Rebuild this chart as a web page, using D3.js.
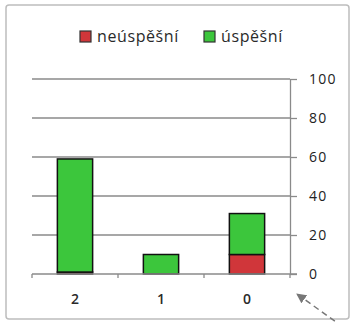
<!DOCTYPE html>
<html>
<head>
<meta charset="utf-8">
<script src="https://cdn.jsdelivr.net/npm/d3@7"></script>
<style>
  html, body { margin: 0; padding: 0; background: #fff; }
  svg { display: block; }
  text { font-family: "Open Sans", "Liberation Sans", sans-serif; }
</style>
</head>
<body>
<svg id="chart" width="354" height="322"></svg>
<script>
// Categories on the horizontal axis
const categories = ["2", "1", "0"];
// Stacked series values (bottom: neúspěšní, top: úspěšní)
const neuspesni = [1, 0, 10];
const uspesni = [58, 10, 21];
// Right-hand axis ticks
const yTicks = [0, 20, 40, 60, 80, 100];
const seriesNames = ["neúspěšní", "úspěšní"];
const seriesColors = ["#d0363a", "#3cc63c"];

const svg = d3.select("#chart");

// Outer chart frame
svg.append("rect")
  .attr("x", 6).attr("y", 5)
  .attr("width", 343).attr("height", 314)
  .attr("rx", 3)
  .attr("fill", "#fff")
  .attr("stroke", "#bdbdbd")
  .attr("stroke-width", 1.5);

const x = d3.scaleBand()
  .domain(categories)
  .range([32, 290])
  .paddingInner(0.59)
  .paddingOuter(0.295);

const y = d3.scaleLinear().domain([0, 100]).range([274, 79]);

// Horizontal gridlines
svg.append("g")
  .selectAll("line")
  .data(yTicks.filter(t => t !== 0))
  .join("line")
  .attr("x1", x.range()[0]).attr("x2", x.range()[1])
  .attr("y1", d => y(d)).attr("y2", d => y(d))
  .attr("stroke", "#8a8a8a")
  .attr("stroke-width", 1.3);

// Stack the two series
const rows = categories.map((c, i) => ({ cat: c, neuspesni: neuspesni[i], uspesni: uspesni[i] }));
const stacked = d3.stack().keys(["neuspesni", "uspesni"])(rows);

svg.append("g")
  .selectAll("g")
  .data(stacked)
  .join("g")
  .attr("fill", (d, i) => seriesColors[i])
  .selectAll("rect")
  .data(d => d.filter(p => p[1] - p[0] > 0))
  .join("rect")
  .attr("x", d => x(d.data.cat))
  .attr("width", x.bandwidth())
  .attr("y", d => y(d[1]))
  .attr("height", d => y(d[0]) - y(d[1]))
  .attr("stroke", "#111")
  .attr("stroke-width", 1.5);

// Bottom category axis: baseline with ticks at band boundaries
const xAxis = svg.append("g");
xAxis.append("line")
  .attr("x1", x.range()[0]).attr("x2", x.range()[1] + 7)
  .attr("y1", y(0)).attr("y2", y(0))
  .attr("stroke", "#8a8a8a").attr("stroke-width", 1.3);
xAxis.selectAll("line.tick")
  .data(d3.range(categories.length + 1))
  .join("line")
  .attr("class", "tick")
  .attr("x1", i => x.range()[0] + i * x.step())
  .attr("x2", i => x.range()[0] + i * x.step())
  .attr("y1", y(0)).attr("y2", y(0) + 4)
  .attr("stroke", "#8a8a8a").attr("stroke-width", 1.3);
xAxis.selectAll("text")
  .data(categories)
  .join("text")
  .attr("x", d => x(d) + x.bandwidth() / 2)
  .attr("y", 304)
  .attr("text-anchor", "middle")
  .attr("font-size", 14)
  .attr("font-weight", 600)
  .attr("fill", "#2a2a2a")
  .text(d => d);

// Right value axis
const yAxis = svg.append("g")
  .attr("transform", `translate(${x.range()[1]},0)`)
  .call(d3.axisRight(y).tickValues(yTicks).tickSize(7).tickPadding(12).tickSizeOuter(0));
yAxis.select(".domain").attr("stroke", "#8a8a8a").attr("stroke-width", 1.3);
yAxis.selectAll(".tick line").attr("stroke", "#8a8a8a").attr("stroke-width", 1.3);
yAxis.selectAll(".tick text")
  .attr("font-size", 14)
  .attr("letter-spacing", 1.2)
  .attr("fill", "#222")
  .attr("font-family", "'Open Sans', sans-serif");

// Legend
const legend = svg.append("g");
const legendX = [80, 204];
seriesNames.forEach((name, i) => {
  legend.append("rect")
    .attr("x", legendX[i]).attr("y", 31)
    .attr("width", 11).attr("height", 11)
    .attr("fill", seriesColors[i])
    .attr("stroke", "#333").attr("stroke-width", 1.2);
  legend.append("text")
    .attr("x", legendX[i] + 17).attr("y", 42)
    .attr("font-size", 16)
    .attr("letter-spacing", 0.6)
    .attr("fill", "#2a2a2a")
    .text(name);
});

// Dashed pointer arrow in the lower right corner
const defs = svg.append("defs");
defs.append("marker")
  .attr("id", "arrowhead")
  .attr("viewBox", "0 0 10 10")
  .attr("refX", 9).attr("refY", 5)
  .attr("markerWidth", 10).attr("markerHeight", 10)
  .attr("markerUnits", "userSpaceOnUse")
  .attr("orient", "auto")
  .append("path")
  .attr("d", "M0,0 L10,5 L0,10 Z")
  .attr("fill", "#777");
svg.append("line")
  .attr("x1", 343).attr("y1", 327)
  .attr("x2", 297).attr("y2", 294)
  .attr("stroke", "#777")
  .attr("stroke-width", 1.5)
  .attr("stroke-dasharray", "6,4")
  .attr("marker-end", "url(#arrowhead)");
</script>
</body>
</html>
